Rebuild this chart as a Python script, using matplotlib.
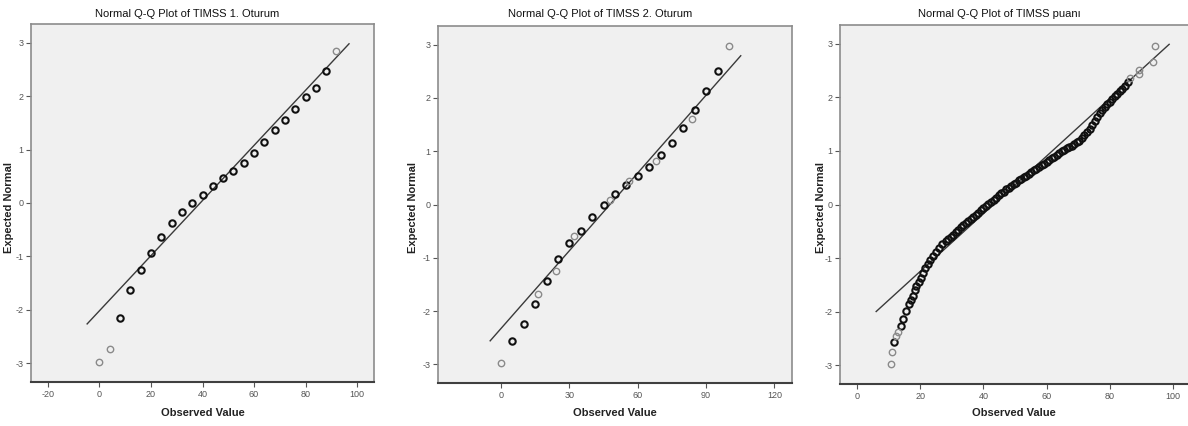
import numpy as np
import matplotlib
matplotlib.use("Agg")
import matplotlib.pyplot as plt

plt.rcParams["axes.unicode_minus"] = False

# --- panel 1: TIMSS 1. Oturum ---
obs1 = [0, 4, 8, 12, 16, 20, 24, 28, 32, 36, 40, 44, 48, 52, 56, 60, 64, 68,
        72, 76, 80, 84, 88, 92]
exp1 = [-2.97, -2.74, -2.15, -1.63, -1.26, -0.93, -0.63, -0.37, -0.16, 0.00,
        0.15, 0.32, 0.46, 0.60, 0.74, 0.93, 1.14, 1.36, 1.55, 1.75, 1.98, 2.16,
        2.47, 2.85]
grey1 = [0, 4, 92]
line1 = dict(mean=39.1, sd=19.4, x0=-4.8, x1=96.9)

# --- panel 2: TIMSS 2. Oturum ---
obs2 = [0, 5, 10, 15, 16, 20, 24, 25, 30, 32, 35, 40, 45, 48, 50, 55, 56, 60,
        65, 68, 70, 75, 80, 84, 85, 90, 95, 100]
exp2 = [-2.98, -2.57, -2.24, -1.86, -1.68, -1.43, -1.24, -1.03, -0.73, -0.59,
        -0.49, -0.24, -0.01, 0.09, 0.19, 0.37, 0.45, 0.53, 0.71, 0.81, 0.92,
        1.15, 1.43, 1.61, 1.78, 2.13, 2.51, 2.98]
grey2 = [0, 16, 24, 32, 48, 56, 68, 84, 100]
line2 = dict(mean=47.8, sd=20.56, x0=-4.8, x1=105.2)

# --- panel 3: TIMSS puani ---
obs3 = [10.6, 11.2, 11.6, 12.3, 13.0, 14.0, 14.5, 15.5, 16.4, 17.0, 17.6, 18.3,
        18.8, 19.5, 20.2, 20.9, 21.6, 22.4, 23.2, 24.1, 24.9, 25.9, 27.0,
        28.0, 28.8, 29.6, 30.4, 31.2, 32.0, 32.8, 33.6, 34.4, 35.2, 36.0, 36.8,
        37.6, 38.4, 39.2, 40.0, 40.8, 41.6, 42.4, 43.2, 44.0, 44.8, 45.6, 46.4,
        47.2, 48.0, 48.8, 49.6, 50.4, 51.2, 52.0, 52.8, 53.6, 54.4, 55.2, 56.0,
        56.8, 57.6, 58.4, 59.2, 60.0, 60.8, 61.6, 62.4, 63.2, 64.0, 64.8, 65.6,
        66.4, 67.2, 68.0, 68.8, 69.6, 70.4, 71.2, 72.0, 72.8, 73.6, 74.4, 75.2,
        76.0, 76.8, 77.6, 78.4, 79.2, 80.0, 80.8, 81.6, 82.4, 83.2, 84.0, 84.8,
        85.7, 86.4, 89.1, 89.3, 93.8, 94.2]
exp3 = [-2.98, -2.75, -2.56, -2.46, -2.38, -2.26, -2.14, -1.99, -1.85, -1.78,
        -1.70, -1.59, -1.53, -1.45, -1.37, -1.28, -1.19, -1.11, -1.03, -0.96,
        -0.89, -0.82, -0.74,
        -0.68, -0.64, -0.60, -0.56, -0.52, -0.47, -0.42, -0.38, -0.35, -0.31,
        -0.27, -0.23, -0.19, -0.15, -0.11, -0.07, -0.03, 0.01, 0.05, 0.09, 0.13,
        0.17, 0.21, 0.24, 0.28, 0.31, 0.35, 0.38, 0.41, 0.45, 0.48, 0.51, 0.54,
        0.57, 0.61, 0.64, 0.67, 0.70, 0.73, 0.76, 0.80, 0.83, 0.86, 0.89, 0.93,
        0.96, 0.99, 1.02, 1.05, 1.07, 1.10, 1.13, 1.16, 1.19, 1.24, 1.29, 1.35,
        1.41, 1.48, 1.55, 1.63, 1.70, 1.76, 1.82, 1.87, 1.92, 1.97, 2.02, 2.07,
        2.11, 2.15, 2.21, 2.29, 2.37, 2.43, 2.51, 2.66, 2.96]
grey3 = [10.6, 11.2, 12.3, 13.0, 86.4, 89.1, 89.3, 93.8, 94.2]
line3 = dict(mean=43.2, sd=18.6, x0=6.05, x1=98.8)

titles = ["Normal Q-Q Plot of TIMSS 1. Oturum",
          "Normal Q-Q Plot of TIMSS 2. Oturum",
          "Normal Q-Q Plot of TIMSS puan\u0131"]
xticks = [np.arange(-20, 101, 20), np.arange(0, 121, 30), np.arange(0, 101, 20)]
xlims = [(-26.6, 106.6), (-27.7, 127.7), (-5.4, 105.4)]

# axes boxes in pixels: left, right, top, bottom
W, H = 1188, 426
boxes = [(31, 374, 24, 382), (438, 792, 26, 383), (840, 1190, 25, 384)]
ylab_x = [9, 413, 821]

FONT = ["Liberation Sans", "DejaVu Sans"]

fig = plt.figure(figsize=(W / 100, H / 100), dpi=100)

panels = [(obs1, exp1, grey1, line1), (obs2, exp2, grey2, line2),
          (obs3, exp3, grey3, line3)]

for i, (obs, exp, grey, ln) in enumerate(panels):
    l, r, t, b = boxes[i]
    ax = fig.add_axes([l / W, 1 - b / H, (r - l) / W, (b - t) / H])
    ax.set_facecolor("#f0f0f0")

    xs = np.array([ln["x0"], ln["x1"]])
    ax.plot(xs, (xs - ln["mean"]) / ln["sd"], color="#3a3a3a", lw=1.0, zorder=2)

    obs = np.array(obs)
    exp = np.array(exp)
    g = np.isin(obs, grey)
    ax.plot(obs[~g], exp[~g], "o", mfc="none", mec="#111111", mew=1.5, ms=4.6,
            zorder=3)
    ax.plot(obs[g], exp[g], "o", mfc="none", mec="#8a8a8a", mew=1.0, ms=4.6,
            zorder=3)

    ax.set_xlim(*xlims[i])
    ax.set_ylim(-3.35, 3.35)
    ax.set_xticks(xticks[i])
    ax.set_yticks(range(-3, 4))
    ax.tick_params(axis="both", length=3.5, width=0.8, color="#555555",
                   labelsize=6.5, labelcolor="#555555", pad=2)
    for lab in ax.get_xticklabels() + ax.get_yticklabels():
        lab.set_family(FONT)
    for side in ("left", "top", "right"):
        ax.spines[side].set_color("#8c8c8c")
        ax.spines[side].set_linewidth(1.2)
    ax.spines["bottom"].set_color("#404040")
    ax.spines["bottom"].set_linewidth(1.5)

    cx = (l + min(r, W)) / 2
    fig.text((cx - 15) / W, 1 - 14 / H, titles[i], ha="center", va="center",
             fontsize=8, family=FONT, color="#111111")
    fig.text(cx / W, 1 - 413 / H, "Observed Value", ha="center", va="center",
             fontsize=8, family=FONT, weight="bold", color="#222222")
    fig.text(ylab_x[i] / W, 1 - 208 / H, "Expected Normal", ha="center",
             va="center", rotation=90, fontsize=8, weight="bold",
             family=FONT, color="#222222")

fig.savefig("out.png", dpi=100)
